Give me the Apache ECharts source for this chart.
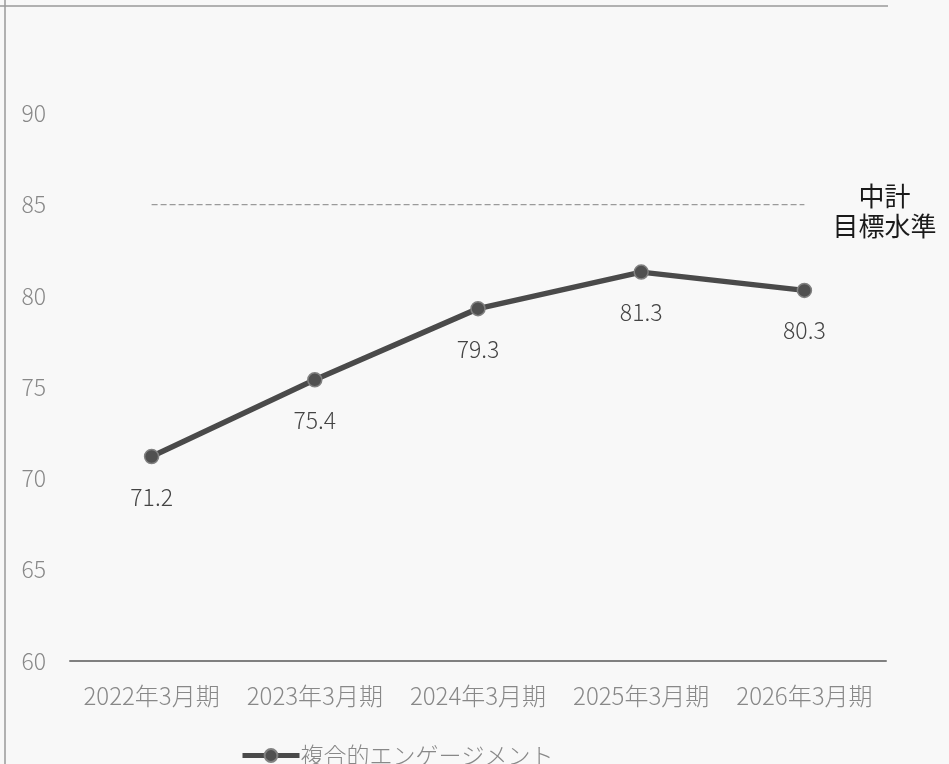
<!DOCTYPE html>
<html>
<head>
<meta charset="utf-8">
<script src="https://cdn.jsdelivr.net/npm/echarts@6/dist/echarts.min.js"></script>
<style>
html,body{margin:0;padding:0;background:#f8f8f8;}
#chart{width:949px;height:764px;}
</style>
</head>
<body>
<div id="chart"></div>
<script>
const categories = ['2022年3月期', '2023年3月期', '2024年3月期', '2025年3月期', '2026年3月期'];
const engagement = [71.2, 75.4, 79.3, 81.3, 80.3];
const target = [85, 85, 85, 85, 85];
const seriesName = '複合的エンゲージメント';
const targetLabel = '中計\n目標水準';

const font = '"Noto Sans CJK JP", "Noto Sans", sans-serif';
const chart = echarts.init(document.getElementById('chart'), null, {renderer: 'canvas'});
chart.setOption({
  backgroundColor: '#f8f8f8',
  animation: false,
  textStyle: {fontFamily: font},
  graphic: [
    {type: 'line', shape: {x1: 0, y1: 6, x2: 888, y2: 6}, style: {stroke: '#9a9a9a', lineWidth: 1.5}},
    {type: 'line', shape: {x1: 5, y1: 0, x2: 5, y2: 764}, style: {stroke: '#9a9a9a', lineWidth: 1.5}}
  ],
  grid: {left: 70, right: 63, top: 22, bottom: 103, containLabel: false},
  legend: {
    data: [seriesName],
    left: 240, top: 744, padding: 0,
    itemWidth: 57, itemHeight: 16, itemGap: 5,
    lineStyle: {width: 5},
    textStyle: {fontSize: 23, color: '#888', fontFamily: font, fontWeight: 300, padding: [0, 0, 0, -4]}
  },
  xAxis: {
    type: 'category',
    data: categories,
    boundaryGap: true,
    axisLine: {lineStyle: {color: '#808080', width: 2}},
    axisTick: {show: false},
    axisLabel: {interval: 0, fontSize: 24, color: '#888', margin: 23, fontFamily: font, fontWeight: 300}
  },
  yAxis: {
    type: 'value',
    min: 60, max: 95, interval: 5,
    axisLine: {show: false},
    axisTick: {show: false},
    splitLine: {show: false},
    axisLabel: {fontSize: 23, color: '#888', margin: 24, showMaxLabel: false, fontFamily: font, fontWeight: 300}
  },
  series: [
    {
      name: seriesName,
      type: 'line',
      data: engagement,
      symbol: 'circle',
      symbolSize: 14,
      lineStyle: {color: '#4a4a4a', width: 5.5},
      itemStyle: {color: '#505050', borderColor: '#808080', borderWidth: 1.5},
      label: {show: true, position: 'bottom', distance: 21, fontSize: 23, color: '#444', fontFamily: font, fontWeight: 300},
      z: 3
    },
    {
      name: 'target',
      type: 'line',
      data: target,
      symbol: 'none',
      silent: true,
      lineStyle: {color: '#9a9a9a', width: 1.2, type: [6, 3]},
      endLabel: {
        show: true,
        formatter: targetLabel,
        align: 'center',
        verticalAlign: 'middle',
        distance: 0,
        offset: [80, 7],
        fontSize: 26,
        lineHeight: 30,
        color: '#1a1a1a',
        fontFamily: font
      },
      z: 2
    }
  ]
});
</script>
</body>
</html>
